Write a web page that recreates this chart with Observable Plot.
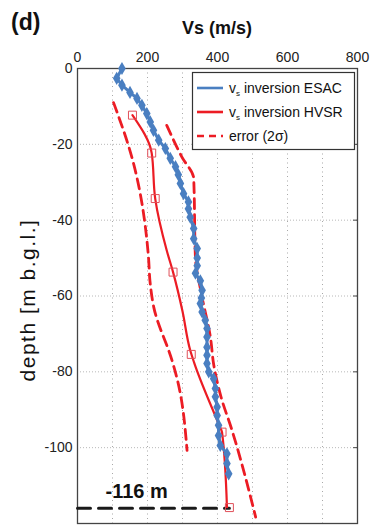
<!DOCTYPE html>
<html>
<head>
<meta charset="utf-8">
<script src="https://cdn.jsdelivr.net/npm/d3@7"></script>
<script src="https://cdn.jsdelivr.net/npm/@observablehq/plot@0.6"></script>
<style>
  html, body { margin: 0; padding: 0; background: #fff; }
  #chart svg { display: block; }
</style>
</head>
<body>
<div id="chart"></div>
<script>
// Shear-wave velocity profiles (Vs, m/s) against depth (m below ground level)

// ESAC inversion profile
const esacDepth = [0, -2.6, -4.4, -6.3, -7.9, -9.7, -11.9, -14.1, -16.3, -18.9, -21.1, -23.7, -25.9, -28,
  -30.3, -33, -35.2, -37, -39.2, -42.2, -44.9, -47.5, -50, -52, -54, -56, -58.5, -60.5, -62, -64.2,
  -66.4, -68.6, -70.8, -73.5, -75.6, -77.8, -80, -81.8, -84.4, -86.6, -89.3, -91.5, -94.1, -96.8,
  -99.4, -101.6, -104.2, -106.9];
const esacVs = [127, 112, 127, 150, 170, 184, 198, 208, 217, 232, 251, 265, 280, 288,
  294, 303, 317, 317, 322, 332, 332, 342, 342, 342, 337, 351, 356, 354, 351, 356,
  365, 370, 370, 370, 370, 370, 375, 389, 394, 394, 399, 399, 403, 403,
  408, 427, 427, 432];

// HVSR inversion profile (curve) and its layer nodes (squares)
const hvsrDepth = [-12.3, -22.3, -34.3, -48, -53.7, -64, -74.3, -77.5, -93.7, -96, -115.7];
const hvsrVs = [157, 212, 222, 255, 273, 300, 322, 333, 403, 413, 427];
const nodeDepth = [-12.3, -22.3, -34.3, -53.7, -75.4, -95.9, -115.8];
const nodeVs = [157, 212, 222, 273, 325, 413, 434];

// 2-sigma error envelope around the HVSR profile
const errLowDepth = [-9, -23.3, -50, -56, -63, -77, -82, -100.7];
const errLowVs = [103, 155, 203, 207, 218, 270, 285, 313];
const errHighDepth = [-15, -23.3, -29, -50, -59, -71, -78, -86.6, -95, -118.3];
const errHighVs = [255, 298, 332, 337, 353, 380, 389, 410, 440, 509];

// Bedrock marker
const bedrockDepth = -116;
const bedrockLabel = "-116 m";

// Axis ticks
const xTicks = [0, 200, 400, 600, 800];
const xGrid = [100, 200, 300, 400, 500, 600, 700];
const yTicks = [0, -20, -40, -60, -80, -100];
const yGrid = [-20, -40, -60, -80, -100];

const legendItems = ["ESAC", "HVSR", "error"];

const blue = "#4a7fc1";
const red = "#ec1c24";
const font = "'Liberation Sans', Arial, sans-serif";

const esac = esacDepth.map((d, i) => ({depth: d, vs: esacVs[i]}));
const hvsr = hvsrDepth.map((d, i) => ({depth: d, vs: hvsrVs[i]}));
const nodes = nodeDepth.map((d, i) => ({depth: d, vs: nodeVs[i]}));
const errLow = errLowDepth.map((d, i) => ({depth: d, vs: errLowVs[i]}));
const errHigh = errHighDepth.map((d, i) => ({depth: d, vs: errHighVs[i]}));
const bedrock = [{vs: 0, depth: bedrockDepth}, {vs: nodeVs[nodeVs.length - 1], depth: bedrockDepth}];

const plot = Plot.plot({
  width: 371,
  height: 525,
  marginTop: 68,
  marginLeft: 77,
  marginRight: 14,
  marginBottom: 2,
  style: {fontFamily: font, background: "#fff", overflow: "visible"},
  x: {type: "linear", domain: [0, 800]},
  y: {type: "linear", domain: [-120, 0]},
  marks: [
    Plot.ruleX(xGrid, {stroke: "#a8a8a8", strokeDasharray: "1,3.5", strokeWidth: 1}),
    Plot.ruleY(yGrid, {stroke: "#b8b8b8", strokeDasharray: "1,2", strokeWidth: 1}),
    Plot.frame({stroke: "#444", strokeWidth: 1.3}),
    // short inward tick marks on the right side
    Plot.ruleY(yGrid, {x1: 789, x2: 800, stroke: "#444", strokeWidth: 1}),
    Plot.axisX(xTicks, {anchor: "top", tickSize: 0, tickPadding: 7, fontSize: 14, fill: "#222", label: null,
      tickFormat: d => `${d}`}),
    Plot.axisY(yTicks, {anchor: "left", tickSize: 0, tickPadding: 5, fontSize: 14, fill: "#222", label: null,
      tickFormat: d => `${d}`}),
    // error envelope
    Plot.line(errLow, {x: "vs", y: "depth", stroke: red, strokeWidth: 2.8, strokeDasharray: "10,6", curve: "monotone-y"}),
    Plot.line(errHigh, {x: "vs", y: "depth", stroke: red, strokeWidth: 2.8, strokeDasharray: "10,6", curve: "monotone-y"}),
    // bedrock depth
    Plot.line(bedrock, {x: "vs", y: "depth", stroke: "#1a1a1a", strokeWidth: 3, strokeDasharray: "13,8"}),
    Plot.text([bedrockLabel], {x: 80, y: bedrockDepth, text: d => d, dy: -17, textAnchor: "start",
      fontSize: 20, fontWeight: "bold", fill: "#111", letterSpacing: "0.5px"}),
    // HVSR inversion
    Plot.line(hvsr, {x: "vs", y: "depth", stroke: red, strokeWidth: 2.2, curve: "monotone-y"}),
    Plot.dot(nodes, {x: "vs", y: "depth", symbol: "square", r: 4.5, fill: "none", stroke: "#e0505a", strokeWidth: 1}),
    // ESAC inversion
    Plot.line(esac, {x: "vs", y: "depth", stroke: blue, strokeWidth: 3}),
    Plot.dot(esac, {x: "vs", y: "depth", symbol: "diamond", r: 4, fill: blue})
  ]
});

document.getElementById("chart").appendChild(plot);

// Panel letter, axis title and depth label
const svg = d3.select(plot);
svg.append("text").attr("x", 11).attr("y", 30).attr("text-anchor", "start").attr("font-family", font)
  .attr("font-size", 23).attr("font-weight", "bold").attr("fill", "#111").text("(d)");
svg.append("text").attr("x", 217).attr("y", 34).attr("text-anchor", "middle").attr("font-family", font)
  .attr("font-size", 18).attr("font-weight", "bold").attr("fill", "#111").text("Vs (m/s)");
svg.append("text").attr("transform", "translate(35,300) rotate(-90)").attr("text-anchor", "middle")
  .attr("font-family", font).attr("font-size", 21).attr("letter-spacing", "1.5px").attr("fill", "#111")
  .text("depth [m b.g.l.]");

// Legend box
const lg = svg.append("g").attr("font-family", font).attr("font-size", 14).attr("fill", "#111")
  .attr("text-anchor", "start");
lg.append("rect").attr("x", 192.5).attr("y", 72.5).attr("width", 162).attr("height", 77)
  .attr("fill", "#fff").attr("stroke", "#333").attr("stroke-width", 1.2);
const rows = [
  {key: legendItems[0], stroke: blue, dash: null, sub: true, label: " inversion ESAC"},
  {key: legendItems[1], stroke: red, dash: null, sub: true, label: " inversion HVSR"},
  {key: legendItems[2], stroke: red, dash: "7,5", sub: false, label: "error (2σ)"}
];
rows.forEach((r, i) => {
  const y = 88 + i * 24;
  lg.append("line").attr("x1", 197).attr("x2", 223).attr("y1", y).attr("y2", y)
    .attr("stroke", r.stroke).attr("stroke-width", 2.6).attr("stroke-dasharray", r.dash);
  const t = lg.append("text").attr("x", 229).attr("y", y + 5);
  if (r.sub) {
    t.append("tspan").text("v");
    t.append("tspan").attr("font-size", 8).attr("dy", 3).text("s");
    t.append("tspan").attr("dy", -3).text(r.label);
  } else {
    t.text(r.label);
  }
});
</script>
</body>
</html>
